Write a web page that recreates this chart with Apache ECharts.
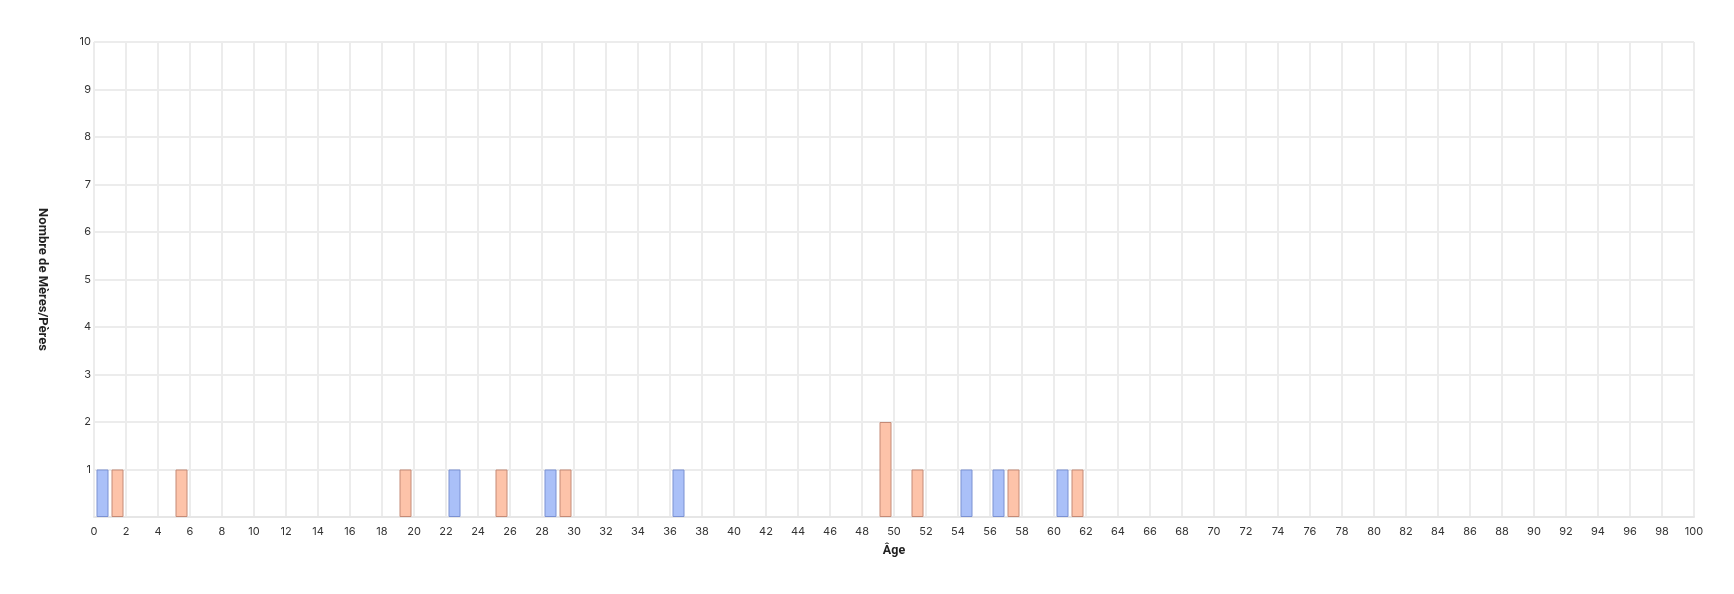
<!DOCTYPE html>
<html>
<head>
<meta charset="utf-8">
<script src="https://cdn.jsdelivr.net/npm/echarts@6/dist/echarts.min.js"></script>
<style>html,body{margin:0;padding:0;background:#fff}#c{width:1734px;height:594px}</style>
</head>
<body>
<div id="c"></div>
<script>
// 2-year age bins: bin start values
var binStarts = [];
for (var a = 0; a < 100; a += 2) binStarts.push(a);
// counts per bin (keyed by bin start), zero elsewhere
var blueBins = {0:1, 22:1, 28:1, 36:1, 54:1, 56:1, 60:1};
var orangeBins = {0:1, 4:1, 18:1, 24:1, 28:1, 48:2, 50:1, 56:1, 60:1};
var xTicks = [0, 100, 2];
var yTicks = [0, 10, 1];

function toData(bins) {
  var out = [];
  binStarts.forEach(function (s) {
    if (bins[s]) out.push([s + 1, bins[s]]);
  });
  return out;
}

var chart = echarts.init(document.getElementById('c'));
chart.setOption({
  animation: false,
  grid: {left: 94, right: 40, top: 42, bottom: 77},
  xAxis: {
    type: 'value', min: xTicks[0], max: xTicks[1], interval: xTicks[2],
    name: 'Âge', nameLocation: 'middle', nameGap: 27,
    nameTextStyle: {fontFamily: 'Roboto', fontWeight: 'bold', fontSize: 12.5, color: '#222'},
    axisLine: {show: true, lineStyle: {color: '#e6e6e6', width: 2}},
    axisTick: {show: false},
    axisLabel: {fontFamily: 'Inter', fontSize: 11, color: '#333', margin: 9},
    splitLine: {show: true, lineStyle: {color: '#ececec', width: 2}}
  },
  yAxis: {
    type: 'value', min: yTicks[0], max: yTicks[1], interval: yTicks[2],
    name: 'Nombre de Mères/Pères', nameLocation: 'middle', nameGap: 45, nameRotate: -90,
    nameTextStyle: {fontFamily: 'Roboto', fontWeight: 'bold', fontSize: 13, color: '#222'},
    axisLine: {show: false},
    axisTick: {show: false},
    axisLabel: {fontFamily: 'Inter', fontSize: 11, color: '#333', margin: 3,
      formatter: function (v) { return v === 0 ? '' : String(v); }},
    splitLine: {show: true, lineStyle: {color: '#ececec', width: 2}}
  },
  series: [
    {type: 'bar', name: 'Mères', data: toData(blueBins), barWidth: 12, barGap: '25%',
     itemStyle: {color: '#aac0f8', borderColor: '#7b91d2', borderWidth: 1}},
    {type: 'bar', name: 'Pères', data: toData(orangeBins), barWidth: 12, barGap: '25%',
     itemStyle: {color: '#fdc3a9', borderColor: '#c48a76', borderWidth: 1}}
  ]
});
</script>
</body>
</html>
